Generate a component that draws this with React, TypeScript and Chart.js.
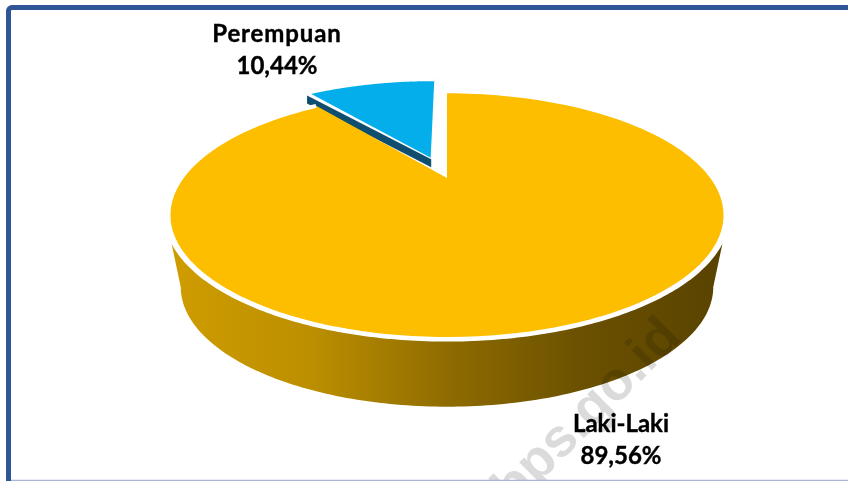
import React, { useEffect, useRef } from "react";
import { Chart, registerables } from "chart.js";

Chart.register(...registerables);

// Share of workers by sex, in percent
const categories = ["Laki-Laki", "Perempuan"];
const shares = [89.56, 10.44];
const sliceColors = ["#FDBE00", "#04AEEA"];
const sliceOffsets = [0, 44];
const labelAnchors = [
  { x: 621, y: 424, tracking: 0 },
  { x: 277, y: 34, tracking: 0.9 },
];

// Planes of the tilted disc. k sets how strongly the near edge is enlarged.
const topPlane = { x0: 447, y0: 178, a: 265.7, b: 112.7, k: 0.3 };
const wallTopPlane = { x0: 447, y0: 178, a: 269.5, b: 114.5, k: 0.3 };
const basePlane = { x0: 447, y0: 251, a: 254, b: 109, k: 0.3 };

type Plane = typeof topPlane;

const project = (p: Plane, u: number, v: number) => {
  const w = 1 - p.k * v;
  return { x: p.x0 + (p.a * u) / w, y: p.y0 + (p.b * v) / w };
};

const arcPoints = (p: Plane, from: number, to: number, du = 0, dv = 0) => {
  const steps = 160;
  const pts = [];
  for (let i = 0; i <= steps; i++) {
    const t = from + ((to - from) * i) / steps;
    pts.push(project(p, Math.cos(t) + du, Math.sin(t) + dv));
  }
  return pts;
};

const trace = (ctx: CanvasRenderingContext2D, pts: { x: number; y: number }[], move = true) => {
  pts.forEach((pt, i) => {
    if (i === 0 && move) ctx.moveTo(pt.x, pt.y);
    else ctx.lineTo(pt.x, pt.y);
  });
};

const drawFrame = (ctx: CanvasRenderingContext2D, w: number, h: number) => {
  ctx.save();
  ctx.strokeStyle = "#2F5597";
  ctx.lineWidth = 5;
  ctx.beginPath();
  ctx.moveTo(w, 7.5);
  ctx.lineTo(12, 7.5);
  ctx.arcTo(8.5, 7.5, 8.5, 11, 3.5);
  ctx.lineTo(8.5, h);
  ctx.stroke();
  ctx.strokeStyle = "#A9B5D6";
  ctx.lineWidth = 1.5;
  ctx.beginPath();
  ctx.moveTo(11, h - 0.5);
  ctx.lineTo(w, h - 0.5);
  ctx.stroke();
  ctx.restore();
};

const drawSideWall = (ctx: CanvasRenderingContext2D) => {
  const upper = Math.asin(0.49);
  const lower = Math.asin(0.3);
  const gradient = ctx.createLinearGradient(173, 0, 722, 0);
  gradient.addColorStop(0, "#CF9C00");
  gradient.addColorStop(0.25, "#BC8F00");
  gradient.addColorStop(0.5, "#8F6C00");
  gradient.addColorStop(0.75, "#6A5000");
  gradient.addColorStop(1, "#594300");
  ctx.fillStyle = gradient;
  ctx.beginPath();
  trace(ctx, arcPoints(wallTopPlane, upper, Math.PI - upper));
  trace(ctx, arcPoints(basePlane, Math.PI - lower, lower), false);
  ctx.closePath();
  ctx.fill();
};

const drawWatermark = (ctx: CanvasRenderingContext2D) => {
  ctx.save();
  ctx.globalCompositeOperation = "multiply";
  ctx.translate(683, 339);
  ctx.rotate(-Math.PI / 4);
  ctx.font = 'bold 54px "Liberation Sans"';
  ctx.textAlign = "right";
  ctx.textBaseline = "alphabetic";
  ctx.fillStyle = "rgba(110,110,110,0.25)";
  ctx.fillText("bps.go.id", 0, 0);
  ctx.restore();
};

const pieIn3D = {
  id: "pieIn3D",
  beforeDatasetDraw(chart: Chart) {
    const ctx = chart.ctx;
    const arcs = chart.getDatasetMeta(0).data as any[];

    drawSideWall(ctx);
    drawWatermark(ctx);

    // The lifted slice first, so its short wall tucks behind the large slice.
    [...arcs].reverse().forEach((arc) => {
      const offset = arc.options.offset / arc.outerRadius;
      const mid = (arc.startAngle + arc.endAngle) / 2;
      const du = Math.cos(mid) * offset;
      const dv = Math.sin(mid) * offset;
      const rim = arcPoints(topPlane, arc.startAngle, arc.endAngle, du, dv);
      const apex = project(topPlane, du, dv);

      if (offset > 0) {
        const tip = rim[0];
        ctx.fillStyle = "#0F4E6E";
        ctx.beginPath();
        ctx.moveTo(tip.x - 1.5, tip.y + 3);
        ctx.lineTo(apex.x + 0.5, apex.y + 1.5);
        ctx.lineTo(apex.x + 0.5, apex.y + 9.5);
        ctx.lineTo(tip.x - 1.5, tip.y + 11);
        ctx.closePath();
        ctx.fill();
      }

      ctx.fillStyle = arc.options.backgroundColor;
      ctx.beginPath();
      ctx.moveTo(apex.x, apex.y);
      trace(ctx, rim, false);
      ctx.closePath();
      ctx.fill();

      ctx.strokeStyle = "#FFFFFF";
      ctx.lineWidth = 4;
      ctx.beginPath();
      trace(ctx, rim);
      ctx.stroke();
    });
    return false;
  },
  afterDraw(chart: Chart) {
    const ctx = chart.ctx;
    drawFrame(ctx, chart.width, chart.height);
    ctx.save();
    ctx.font = "bold 24px Lato";
    ctx.fillStyle = "#000000";
    ctx.strokeStyle = "#000000";
    ctx.lineWidth = 0.4;
    ctx.textAlign = "center";
    ctx.textBaseline = "middle";
    categories.forEach((name, i) => {
      const { x, y, tracking } = labelAnchors[i];
      const value = `${shares[i].toFixed(2).replace(".", ",")}%`;
      (ctx as any).letterSpacing = `${tracking}px`;
      ctx.fillText(name, x, y);
      ctx.strokeText(name, x, y);
      (ctx as any).letterSpacing = "0px";
      ctx.fillText(value, x, y + 32);
      ctx.strokeText(value, x, y + 32);
    });
    ctx.restore();
  },
};

export default function App() {
  const canvasRef = useRef<HTMLCanvasElement>(null);

  useEffect(() => {
    const chart = new Chart(canvasRef.current!, {
      type: "pie",
      data: {
        labels: categories,
        datasets: [
          {
            data: shares,
            backgroundColor: sliceColors,
            offset: sliceOffsets,
            borderWidth: 0,
            clip: false,
          },
        ],
      },
      options: {
        responsive: false,
        animation: false,
        plugins: { legend: { display: false }, tooltip: { enabled: false } },
      },
      plugins: [pieIn3D],
    } as any);
    return () => chart.destroy();
  }, []);

  return (
    <canvas
      ref={canvasRef}
      width={848}
      height={481}
      style={{ position: "absolute", left: 0, top: 0, display: "block" }}
    />
  );
}
